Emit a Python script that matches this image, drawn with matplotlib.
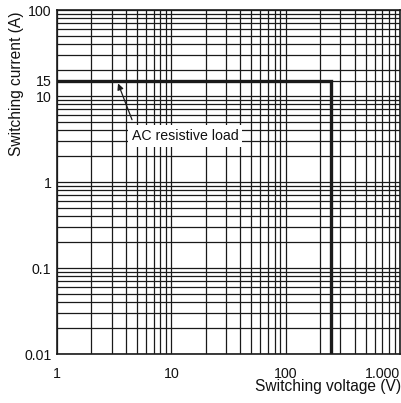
import numpy as np
import matplotlib.pyplot as plt
from matplotlib.ticker import LogLocator, NullFormatter, FixedLocator

plt.rcParams['font.family'] = ['Liberation Sans', 'DejaVu Sans']

# limit curve (AC resistive load)
voltage = [1, 250, 250]
current = [15, 15, 0.01]

x_ticks = [1, 10, 100, 1000]
x_labels = ['1', '10', '100', '1.000']
y_ticks = [0.01, 0.1, 1, 10, 15, 100]
y_labels = ['0.01', '0.1', '1', '10', '15', '100']

fig = plt.figure(figsize=(4.01, 4.03), dpi=100)
ax = fig.add_axes([57 / 401, 49 / 403, 343 / 401, 344 / 403])
ax.set_xscale('log')
ax.set_yscale('log')
ax.set_xlim(1, 1000)
ax.set_ylim(0.01, 100)

ax.xaxis.set_minor_locator(LogLocator(base=10, subs=np.arange(2, 10), numticks=20))
ax.yaxis.set_minor_locator(LogLocator(base=10, subs=np.arange(2, 10), numticks=20))
ax.xaxis.set_major_locator(FixedLocator(x_ticks))
ax.set_xticklabels(x_labels)
ax.xaxis.set_minor_formatter(NullFormatter())
ax.yaxis.set_major_locator(FixedLocator(y_ticks))
ax.set_yticklabels(y_labels)
ax.yaxis.set_minor_formatter(NullFormatter())
ax.grid(True, which='both', color='#1a1a1a', linewidth=0.9)
ax.set_axisbelow(True)

ax.tick_params(which='both', length=0, labelsize=10.2, colors='#111')
ax.tick_params(axis='x', pad=9)
ax.tick_params(axis='y', pad=4)
ax.get_xticklabels()[-1].set_horizontalalignment('right')

for s in ax.spines.values():
    s.set_color('#1a1a1a')
    s.set_linewidth(1.2)

ax.plot(voltage, current, color='#1a1a1a', linewidth=2.4, solid_joinstyle='miter', zorder=5)

ax.annotate('', xy=(3.42, 14.0), xytext=(4.53, 5.3),
            arrowprops=dict(arrowstyle='-|>', color='#1a1a1a', lw=0.9,
                            mutation_scale=9, shrinkA=0, shrinkB=0),
            zorder=6)
ax.text(4.53, 3.43, 'AC resistive load', fontsize=10.2, ha='left', va='center',
        color='#111', zorder=6,
        bbox=dict(boxstyle='square,pad=0.25', fc='white', ec='none'))

fig.text(401 / 401, 16 / 403, 'Switching voltage (V)', ha='right', va='center',
         fontsize=11.2, color='#111')
fig.text(17 / 401, 1 - 12 / 403, 'Switching current (A)', ha='center', va='top',
         rotation=90, fontsize=11.2, color='#111')

fig.savefig('out.png', dpi=100)
